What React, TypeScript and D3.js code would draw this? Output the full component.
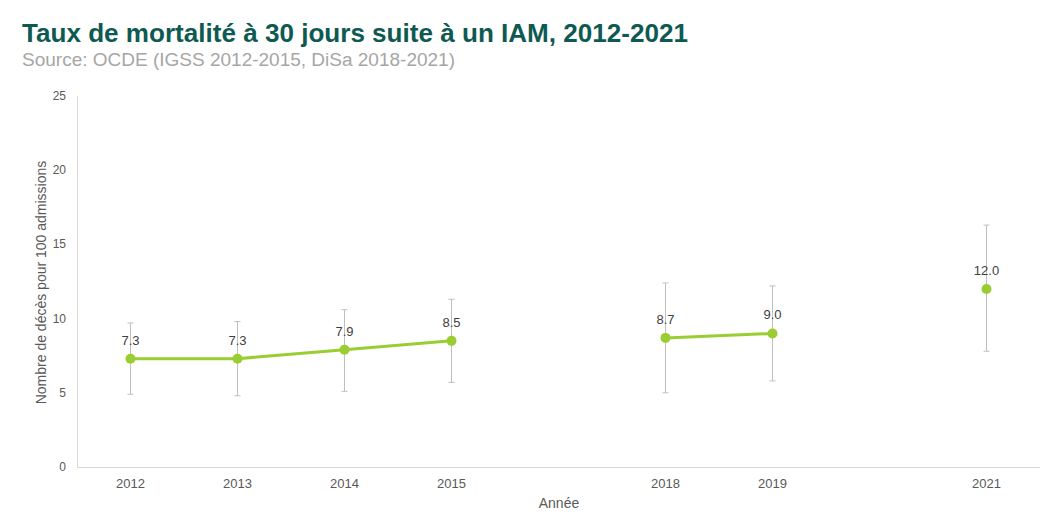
import React from "react";
import * as d3 from "d3";

// Category slots of the x axis ("" = empty slot between data years)
const categories = ["2012", "2013", "2014", "2015", "", "2018", "2019", "", "2021"];
const rates: (number | null)[] = [7.3, 7.3, 7.9, 8.5, null, 8.7, 9.0, null, 12.0];
const lows: (number | null)[] = [4.9, 4.8, 5.1, 5.7, null, 5.0, 5.8, null, 7.8];
const highs: (number | null)[] = [9.7, 9.8, 10.6, 11.3, null, 12.4, 12.2, null, 16.3];
const yTicks = [0, 5, 10, 15, 20, 25];

const W = 1058, H = 528;
const M = { left: 77, right: 1040, top: 96, bottom: 467 };
const GREEN = "#9acd32";
const FONT = "Liberation Sans, Arial, sans-serif";

export default function App() {
  const slots = categories.map((_, i) => i);
  const x = d3.scaleBand<number>().domain(slots).range([M.left, M.right]);
  const cx = (i: number) => (x(i) as number) + x.bandwidth() / 2;
  const y = d3.scaleLinear().domain([0, 25]).range([M.bottom, M.top]);
  const pts = categories.map((c, i) => ({ i, c, v: rates[i], lo: lows[i], hi: highs[i] }));
  const line = d3
    .line<{ i: number; v: number | null }>()
    .defined((d) => d.v !== null)
    .x((d) => cx(d.i))
    .y((d) => y(d.v as number));
  const valid = pts.filter((d) => d.v !== null);
  return (
    <svg width={W} height={H} style={{ position: "absolute", left: 0, top: 0, fontFamily: FONT }}>
      <rect width={W} height={H} fill="#fff" />
      <text x={22} y={42} fontSize={25} fontWeight="bold" fill="#0e5a53" textLength={666} lengthAdjust="spacingAndGlyphs">
        Taux de mortalité à 30 jours suite à un IAM, 2012-2021
      </text>
      <text x={22} y={66} fontSize={18} fill="#a6a6a6" textLength={433} lengthAdjust="spacingAndGlyphs">
        Source: OCDE (IGSS 2012-2015, DiSa 2018-2021)
      </text>
      <line x1={M.left + 0.5} x2={M.left + 0.5} y1={M.top} y2={M.bottom} stroke="#d9d9d9" />
      <line x1={M.left} x2={M.right} y1={M.bottom + 0.5} y2={M.bottom + 0.5} stroke="#d9d9d9" />
      {yTicks.map((t) => (
        <text key={t} x={66} y={y(t) + 4} fontSize={12} fill="#595959" textAnchor="end">
          {t}
        </text>
      ))}
      {pts.map((d) =>
        d.c ? (
          <text key={"x" + d.i} x={cx(d.i)} y={M.bottom + 21} fontSize={13} fill="#595959" textAnchor="middle">
            {d.c}
          </text>
        ) : null
      )}
      <text x={559} y={508} fontSize={14} fill="#595959" textAnchor="middle">
        Année
      </text>
      <text
        transform={`translate(46, ${(M.top + M.bottom) / 2 + 1}) rotate(-90)`}
        fontSize={14}
        fill="#595959"
        textAnchor="middle"
      >
        Nombre de décès pour 100 admissions
      </text>
      {valid.map((d) => (
        <g key={"e" + d.i} stroke="#bfbfbf" strokeWidth={1}>
          <line x1={cx(d.i)} x2={cx(d.i)} y1={y(d.lo as number)} y2={y(d.hi as number)} />
          <line x1={cx(d.i) - 3} x2={cx(d.i) + 3} y1={y(d.lo as number)} y2={y(d.lo as number)} />
          <line x1={cx(d.i) - 3} x2={cx(d.i) + 3} y1={y(d.hi as number)} y2={y(d.hi as number)} />
        </g>
      ))}
      <path d={line(pts) || ""} fill="none" stroke={GREEN} strokeWidth={3} />
      {valid.map((d) => (
        <circle key={"c" + d.i} cx={cx(d.i)} cy={y(d.v as number)} r={5} fill={GREEN} />
      ))}
      {valid.map((d) => (
        <text key={"l" + d.i} x={cx(d.i)} y={y(d.v as number) - 14} fontSize={13} fill="#404040" textAnchor="middle">
          {(d.v as number).toFixed(1)}
        </text>
      ))}
    </svg>
  );
}
